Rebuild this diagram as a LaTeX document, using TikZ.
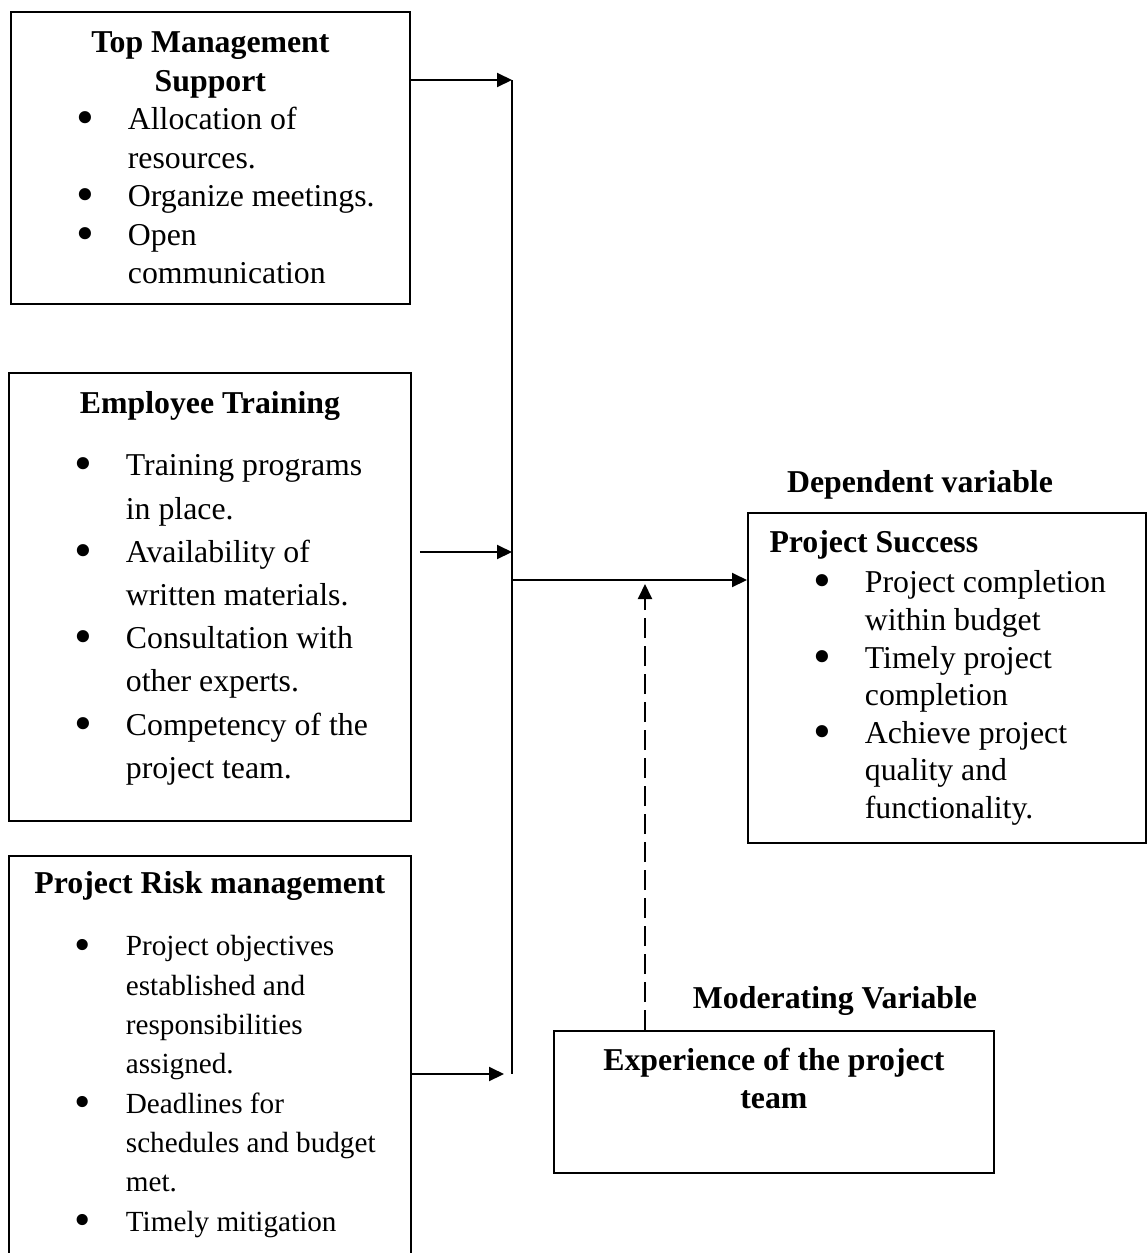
\documentclass[tikz,border=0pt]{standalone}
\usepackage{graphicx}
\usepackage{fontspec}
\setmainfont{Liberation Serif}
\usetikzlibrary{arrows.meta,positioning}
\newcommand{\itm}{\hspace*{33pt}\makebox[25.5pt][l]{\smash{\raisebox{-0.16em}{\scalebox{1.6}{\textbullet}}}}}
\newcommand{\cnt}{\hspace*{58.5pt}}

\begin{document}
\begin{tikzpicture}[
x=0.5pt, y=-0.5pt,
varbox/.style={rectangle, draw, line width=0.9pt, inner sep=0pt, anchor=north west},
vlabel/.style={anchor=base, inner sep=0pt, font=\fontsize{15.9pt}{19pt}\selectfont\bfseries},
link/.style={line width=1pt},
arr/.style={link, -{Triangle[length=7.5pt,width=7pt]}},
modarr/.style={arr, dash pattern=on 10pt off 4pt}
]
\useasboundingbox (0,0) rectangle (1146,1253);

% --- Independent variables ---
\node (tms) [varbox] at (10,11) {\parbox[c][146pt][t]{199.5pt}{\fontsize{15.9pt}{19.25pt}\selectfont\raggedright
{\centering\bfseries\rule{0pt}{20.5pt}Top Management\\Support\par}
\itm Allocation of\\
\cnt resources.\\
\itm Organize meetings.\\
\itm Open\\
\cnt communication\par}};

\node (et) [varbox] at (8,372) {\parbox[c][224pt][t]{201pt}{\fontsize{15.9pt}{21.6pt}\selectfont\raggedright
{\centering\bfseries\rule{0pt}{20.5pt}Employee Training\par}
\vspace{9.4pt}
\itm Training programs\\
\cnt in place.\\
\itm Availability of\\
\cnt written materials.\\
\itm Consultation with\\
\cnt other experts.\\
\itm Competency of the\\
\cnt project team.\par}};

\node (prm) [varbox] at (8,855) {\parbox[c][203.5pt][t]{201pt}{\fontsize{15.9pt}{19.65pt}\selectfont\raggedright
{\centering\bfseries\rule{0pt}{19pt}Project Risk management\par}
\vspace{11.35pt}
{\fontsize{14.6pt}{19.65pt}\selectfont
\itm Project objectives\\
\cnt established and\\
\cnt responsibilities\\
\cnt assigned.\\
\itm Deadlines for\\
\cnt schedules and budget\\
\cnt met.\\
\itm Timely mitigation\par}}};

% --- Dependent variable ---
\node (ps) [varbox] at (747,512) {\parbox[c][165pt][t]{199pt}{\fontsize{15.9pt}{18.8pt}\selectfont\raggedright
{\bfseries\hspace*{10.8pt}\rule{0pt}{20pt}Project Success\par}
\vspace{1.2pt}
\itm Project completion\\
\cnt within budget\\
\itm Timely project\\
\cnt completion\\
\itm Achieve project\\
\cnt quality and\\
\cnt functionality.\par}};
\node (dv) [vlabel] at (920,492) {Dependent variable};

% --- Moderating variable ---
\node (exp) [varbox] at (553,1030) {\parbox[c][71pt][t]{220pt}{\fontsize{15.9pt}{19pt}\selectfont\centering\bfseries
\rule{0pt}{20pt}Experience of the project\\
team\par}};
\node (mv) [vlabel] at (835,1008) {Moderating Variable};

% --- Connectors ---
\coordinate (jt) at (512,80);
\coordinate (je) at (512,552);
\coordinate (jm) at (512,580);
\coordinate (jb) at (512,1074);
\coordinate (dm) at (645,584);

\draw [link] (jt) -- (jb);
\draw [arr] (jt -| tms.east) -- (jt);
\draw [arr] ([xshift=4pt]je -| et.east) -- (je);
\draw [arr] (jb -| prm.east) -- ([xshift=-4pt]jb);
\draw [arr] (jm) -- (jm -| ps.west);
\draw [modarr] (dm |- exp.north) -- (dm);

\end{tikzpicture}
\end{document}
